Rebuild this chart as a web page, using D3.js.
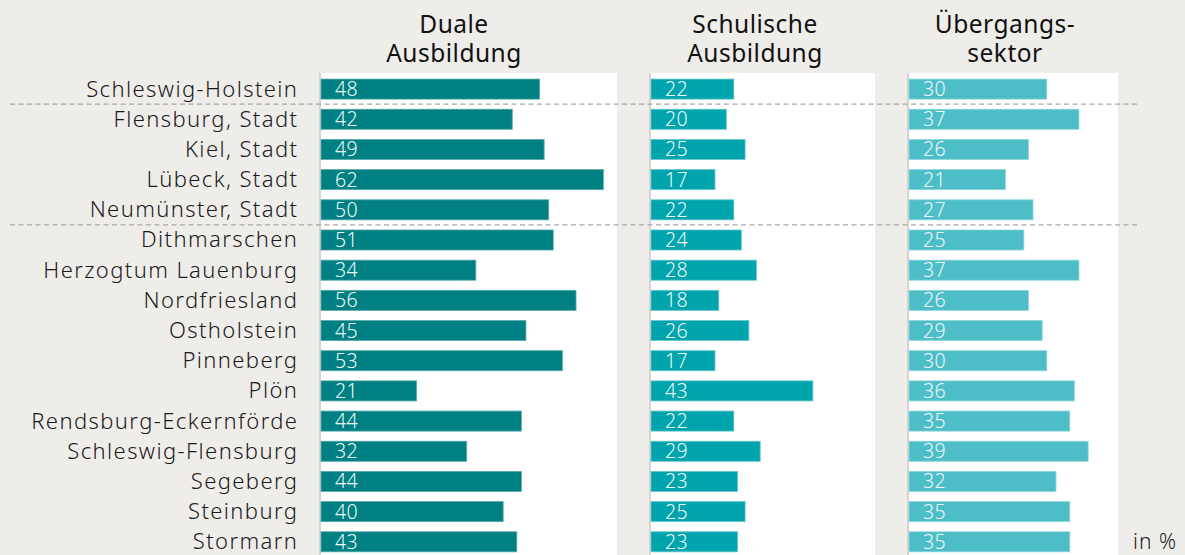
<!DOCTYPE html>
<html>
<head>
<meta charset="utf-8">
<script src="https://cdn.jsdelivr.net/npm/d3@7"></script>
<style>
  body { margin: 0; background: #efedea; }
  svg { display: block; font-family: "Noto Sans", "Open Sans", sans-serif; }
</style>
</head>
<body>
<div id="chart"></div>
<script>
// data
var regions = ["Schleswig-Holstein", "Flensburg, Stadt", "Kiel, Stadt", "Lübeck, Stadt", "Neumünster, Stadt",
  "Dithmarschen", "Herzogtum Lauenburg", "Nordfriesland", "Ostholstein", "Pinneberg", "Plön",
  "Rendsburg-Eckernförde", "Schleswig-Flensburg", "Segeberg", "Steinburg", "Stormarn"];
var duale = [48, 42, 49, 62, 50, 51, 34, 56, 45, 53, 21, 44, 32, 44, 40, 43];
var schulische = [22, 20, 25, 17, 22, 24, 28, 18, 26, 17, 43, 22, 29, 23, 25, 23];
var uebergang = [30, 37, 26, 21, 27, 25, 37, 26, 29, 30, 36, 35, 39, 32, 35, 35];
var headers = [["Duale", "Ausbildung"], ["Schulische", "Ausbildung"], ["Übergangs-", "sektor"]];
var unitLabel = "in %";

var width = 1185, height = 555;
var svg = d3.select("#chart").append("svg")
  .attr("width", width)
  .attr("height", height);

svg.append("rect").attr("width", width).attr("height", height).attr("fill", "#efedea");

var y = d3.scaleBand()
  .domain(regions)
  .range([74, 556.9])
  .paddingInner(0.335)
  .paddingOuter(0.1675);

// one panel per series: own x scale, own colours
var panels = [
  {values: duale, head: headers[0], x0: 320, x1: 617, max: 65, headX: 454, fill: "#008083", stroke: "#5aa9ab"},
  {values: schulische, head: headers[1], x0: 650, x1: 875, max: 59.5, headX: 755, fill: "#00a4ad", stroke: "#6ac8cd"},
  {values: uebergang, head: headers[2], x0: 908, x1: 1118, max: 45.5, headX: 1005, fill: "#4dbdc8", stroke: "#8fd7dd"}
];

panels.forEach(function(p) {
  var x = d3.scaleLinear().domain([0, p.max]).range([p.x0 + 1, p.x1]);

  svg.append("rect")
    .attr("x", p.x0).attr("y", 73)
    .attr("width", p.x1 - p.x0).attr("height", height - 73)
    .attr("fill", "#fff");

  svg.append("line")
    .attr("x1", p.x0).attr("x2", p.x0)
    .attr("y1", 73).attr("y2", height)
    .attr("stroke", "#d6d4d0").attr("stroke-width", 2);

  var g = svg.append("g");
  var data = regions.map(function(r, i) { return {region: r, value: p.values[i]}; });

  g.selectAll("rect.bar")
    .data(data)
    .enter().append("rect")
      .attr("class", "bar")
      .attr("x", x(0))
      .attr("y", function(d) { return y(d.region); })
      .attr("width", function(d) { return x(d.value) - x(0); })
      .attr("height", y.bandwidth())
      .attr("fill", p.fill)
      .attr("stroke", p.stroke)
      .attr("stroke-width", 0.8);

  g.selectAll("text.val")
    .data(data)
    .enter().append("text")
      .attr("class", "val")
      .attr("x", x(0) + 14)
      .attr("y", function(d) { return y(d.region) + y.bandwidth() / 2; })
      .attr("dy", "0.36em")
      .attr("fill", "#eef8f8")
      .style("font-size", "19.5px")
      .style("font-weight", 300)
      .style("letter-spacing", "0.3px")
      .text(function(d) { return d.value; });

  var head = svg.append("text")
    .attr("text-anchor", "middle")
    .attr("fill", "#111")
    .style("font-size", "24.5px")
    .style("letter-spacing", "0.5px");
  p.head.forEach(function(line, i) {
    head.append("tspan")
      .attr("x", p.headX)
      .attr("y", 33 + i * 29)
      .text(line);
  });
});

// dashed separators
[1, 5].forEach(function(i) {
  var yy = (y(regions[i - 1]) + y.bandwidth() + y(regions[i])) / 2;
  svg.append("line")
    .attr("x1", 10).attr("x2", 1140)
    .attr("y1", yy).attr("y2", yy)
    .attr("stroke", "#aaa8a4")
    .attr("stroke-width", 1.2)
    .attr("stroke-dasharray", "5,3.5");
});

// row labels
svg.selectAll("text.lab")
  .data(regions)
  .enter().append("text")
    .attr("class", "lab")
    .attr("x", 298.4)
    .attr("y", function(d) { return y(d) + y.bandwidth() / 2; })
    .attr("dy", "0.34em")
    .attr("text-anchor", "end")
    .attr("fill", "#1a1a1a")
    .style("font-size", "22px")
    .style("font-weight", 300)
    .style("letter-spacing", "1.4px")
    .text(function(d) { return d; });

svg.append("text")
  .attr("x", 1177).attr("y", 549)
  .attr("text-anchor", "end")
  .attr("fill", "#1a1a1a")
  .style("font-size", "21px")
  .style("font-weight", 300)
  .style("letter-spacing", "1px")
  .text(unitLabel);
</script>
</body>
</html>
